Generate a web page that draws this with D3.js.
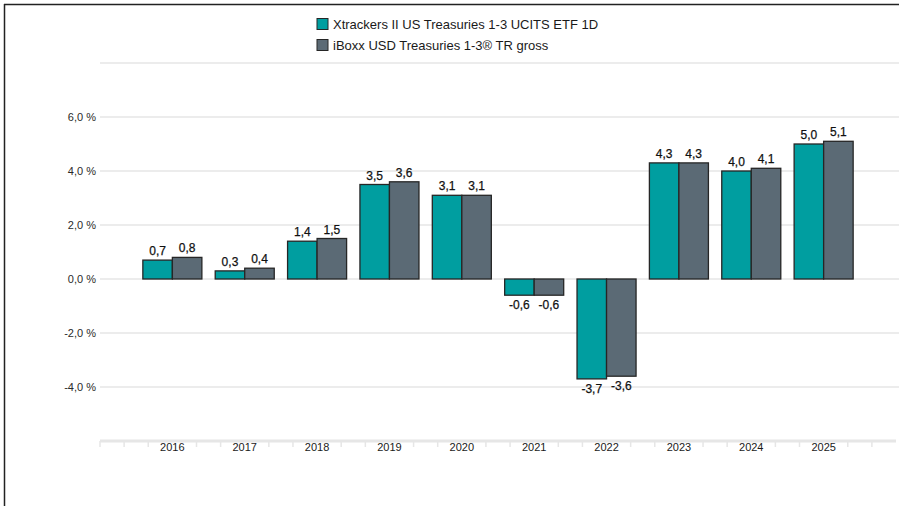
<!DOCTYPE html>
<html>
<head>
<meta charset="utf-8">
<script src="https://cdn.jsdelivr.net/npm/d3@7.9.0/dist/d3.min.js"></script>
<style>
  html, body { margin: 0; padding: 0; background: #fff; }
  svg { display: block; font-family: "Liberation Sans", Arial, sans-serif; }
</style>
</head>
<body>
<div id="chart"></div>
<script>
// data
const years = ["2016", "2017", "2018", "2019", "2020", "2021", "2022", "2023", "2024", "2025"];
const seriesNames = ["Xtrackers II US Treasuries 1-3 UCITS ETF 1D", "iBoxx USD Treasuries 1-3® TR gross"];
const fundValues = [0.7, 0.3, 1.4, 3.5, 3.1, -0.6, -3.7, 4.3, 4.0, 5.0];
const indexValues = [0.8, 0.4, 1.5, 3.6, 3.1, -0.6, -3.6, 4.3, 4.1, 5.1];
const yTicks = [-4, -2, 0, 2, 4, 6];
const gridTicks = [-4, -2, 0, 2, 4, 6, 8];
const colors = ["#009ea0", "#5b6a75"];

const width = 899,
  height = 506;

const svg = d3
  .select("#chart")
  .append("svg")
  .attr("width", width)
  .attr("height", height);

// frame (top + left)
svg.append("line").attr("x1", 4).attr("x2", width).attr("y1", 4.5).attr("y2", 4.5)
  .attr("stroke", "#222").attr("stroke-width", 1.5);
svg.append("line").attr("x1", 4.5).attr("x2", 4.5).attr("y1", 4).attr("y2", height)
  .attr("stroke", "#222").attr("stroke-width", 1.5);

const x0 = d3.scaleBand().domain(years).range([100, 896]).paddingInner(0).paddingOuter(0.5);
const x1 = d3.scaleBand().domain([0, 1]).range([0, x0.bandwidth()]).paddingInner(0).paddingOuter(0.226);
const y = d3.scaleLinear().domain([-6, 8]).range([441, 63]);

const fmt = (v) => d3.format(".1f")(v).replace("−", "-").replace(".", ",");

// grid
svg.append("g")
  .selectAll("line")
  .data(gridTicks)
  .join("line")
  .attr("x1", 100)
  .attr("x2", 899)
  .attr("y1", (d) => y(d))
  .attr("y2", (d) => y(d))
  .attr("stroke", "#e6e6e6")
  .attr("stroke-width", 1.5);

// y labels
svg.append("g")
  .selectAll("text")
  .data(yTicks)
  .join("text")
  .attr("x", 96)
  .attr("y", (d) => y(d))
  .attr("dy", "0.35em")
  .attr("text-anchor", "end")
  .style("font-size", "11px")
  .attr("fill", "#2a2a2a")
  .text((d) => fmt(d) + " %");

// x axis line + minor ticks
svg.append("line")
  .attr("x1", 100).attr("x2", 896)
  .attr("y1", y(-6)).attr("y2", y(-6))
  .attr("stroke", "#e6e6e6").attr("stroke-width", 3);

const step = x0.step();
const minor = [];
for (let i = 0; i <= 33; i++) {
  if (i % 3 !== 0 || i === 0) minor.push(100 + (i * step) / 3);
}
svg.append("g")
  .selectAll("line")
  .data(minor.filter((v) => v <= 897))
  .join("line")
  .attr("x1", (d) => d)
  .attr("x2", (d) => d)
  .attr("y1", y(-6))
  .attr("y2", y(-6) + 6)
  .attr("stroke", "#e6e6e6")
  .attr("stroke-width", 1.5);

svg.append("g")
  .selectAll("text")
  .data(years)
  .join("text")
  .attr("x", (d) => x0(d) + x0.bandwidth() / 2)
  .attr("y", y(-6) + 6)
  .attr("dy", "0.35em")
  .attr("text-anchor", "middle")
  .style("font-size", "11px")
  .attr("fill", "#1a1a1a")
  .text((d) => d);

// bars
const rows = years.map((yr, i) => ({ year: yr, vals: [fundValues[i], indexValues[i]] }));
const groups = svg.append("g")
  .selectAll("g")
  .data(rows)
  .join("g")
  .attr("transform", (d) => `translate(${x0(d.year)},0)`);

groups.selectAll("rect")
  .data((d) => d.vals.map((v, k) => ({ v, k })))
  .join("rect")
  .attr("x", (d) => x1(d.k))
  .attr("width", x1.bandwidth())
  .attr("y", (d) => y(Math.max(0, d.v)))
  .attr("height", (d) => Math.abs(y(d.v) - y(0)))
  .attr("fill", (d) => colors[d.k])
  .attr("stroke", "#262626")
  .attr("stroke-width", 1.3);

groups.selectAll("text")
  .data((d) => d.vals.map((v, k) => ({ v, k })))
  .join("text")
  .attr("x", (d) => x1(d.k) + x1.bandwidth() / 2)
  .attr("y", (d) => (d.v >= 0 ? y(d.v) - 5 : y(d.v) + 14))
  .attr("text-anchor", "middle")
  .style("font-size", "12px")
  .attr("fill", "#111")
  .attr("stroke", "#111")
  .attr("stroke-width", 0.25)
  .text((d) => fmt(d.v));

// legend
const legend = svg.append("g")
  .selectAll("g")
  .data(seriesNames)
  .join("g")
  .attr("transform", (d, i) => `translate(317,${24 + i * 21})`);
legend.append("rect")
  .attr("x", 0).attr("y", -5.5).attr("width", 11).attr("height", 11)
  .attr("fill", (d, i) => colors[i])
  .attr("stroke", "#262626").attr("stroke-width", 1);
legend.append("text")
  .attr("x", 16)
  .attr("dy", "0.35em")
  .style("font-size", "13px")
  .attr("fill", "#1a1a1a")
  .text((d) => d);
</script>
</body>
</html>
